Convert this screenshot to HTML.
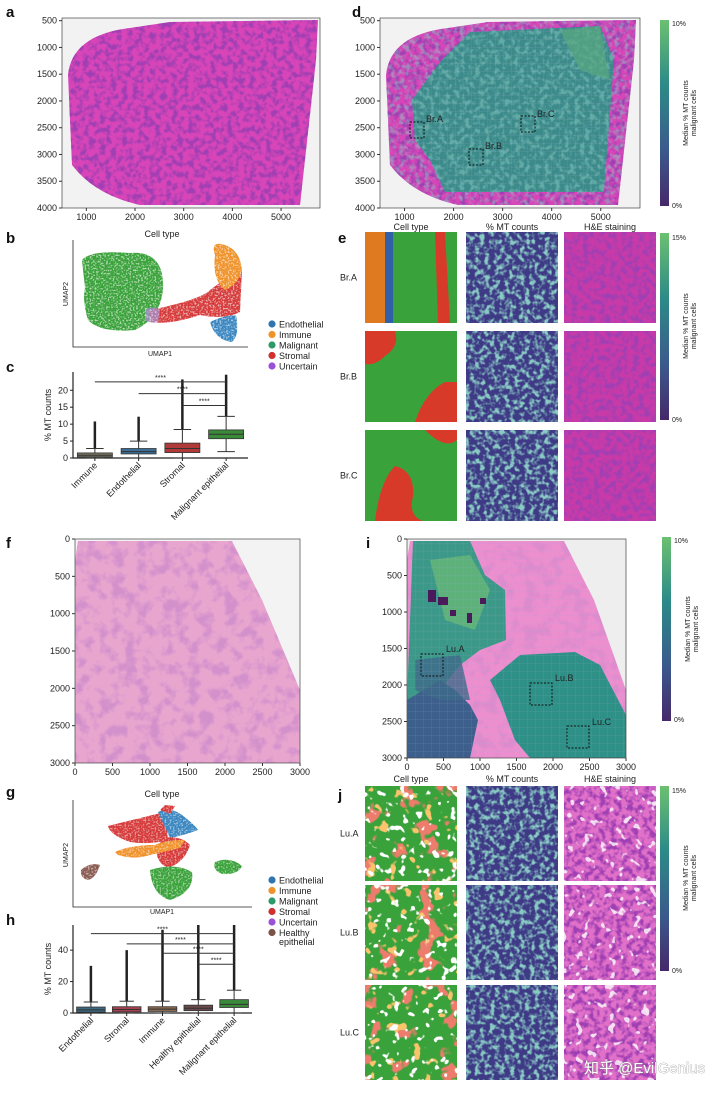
<!DOCTYPE html>
<html><head><meta charset="utf-8"><style>
body{margin:0;background:#fff}
svg{display:block;font-family:"Liberation Sans","Noto Sans CJK SC",sans-serif}
.t{font-size:9px;fill:#222}
.L{font-size:15px;font-weight:bold;fill:#111}
.s{font-size:7px;fill:#222}
</style></head><body>
<svg id="fig" width="720" height="1096" viewBox="0 0 720 1096">
<defs>
<filter id="he" x="0" y="0" width="1" height="1"><feTurbulence type="fractalNoise" baseFrequency="0.18" numOctaves="2" seed="4"/><feColorMatrix type="matrix" values="0 0 0 0 0.35  0 0 0 0 0.05  0 0 0 0 0.45  0 0 0 -4 2.3"/></filter>
<filter id="hel" x="0" y="0" width="1" height="1"><feTurbulence type="fractalNoise" baseFrequency="0.08" numOctaves="3" seed="7"/><feColorMatrix type="matrix" values="0 0 0 0 0.6  0 0 0 0 0.25  0 0 0 0 0.6  0 0 0 -4 2.2"/></filter>
<filter id="mt" x="0" y="0" width="1" height="1"><feTurbulence type="fractalNoise" baseFrequency="0.2" numOctaves="2" seed="9"/><feColorMatrix type="matrix" values="0 0 0 0 0.25  0 0 0 0 0.6  0 0 0 0 0.55  0 0 0 -4 2.2"/></filter>
<filter id="sp" x="0" y="0" width="1" height="1"><feTurbulence type="fractalNoise" baseFrequency="0.6" numOctaves="1" seed="2"/><feColorMatrix type="matrix" values="0 0 0 0 1  0 0 0 0 1  0 0 0 0 1  0 0 0 -5 2.6"/></filter>
<filter id="redb" x="0" y="0" width="1" height="1"><feTurbulence type="fractalNoise" baseFrequency="0.05" numOctaves="3" seed="11"/><feColorMatrix type="matrix" values="0 0 0 0 0.85  0 0 0 0 0.2  0 0 0 0 0.15  0 0 0 -14 5.6"/></filter>
<filter id="orb" x="0" y="0" width="1" height="1"><feTurbulence type="fractalNoise" baseFrequency="0.09" numOctaves="2" seed="21"/><feColorMatrix type="matrix" values="0 0 0 0 0.95  0 0 0 0 0.55  0 0 0 0 0.15  0 0 0 -16 5.6"/></filter>
<filter id="whb" x="0" y="0" width="1" height="1"><feTurbulence type="fractalNoise" baseFrequency="0.12" numOctaves="2" seed="31"/><feColorMatrix type="matrix" values="0 0 0 0 1  0 0 0 0 1  0 0 0 0 1  0 0 0 -16 5.8"/></filter>
<pattern id="grid" width="8" height="8" patternUnits="userSpaceOnUse"><path d="M8 0V8H0" fill="none" stroke="#9ac" stroke-width="0.4" opacity="0.6"/></pattern>
<linearGradient id="vir" x1="0" y1="1" x2="0" y2="0"><stop offset="0" stop-color="#45286a"/><stop offset="0.3" stop-color="#3b5a8c"/><stop offset="0.65" stop-color="#2c8a88"/><stop offset="1" stop-color="#6cc070"/></linearGradient>
<clipPath id="tA"><path d="M68,75 Q72,35 130,28 L170,22 L318,20 L316,60 L300,205 L140,205 Q95,195 72,165 Z"/></clipPath>
<clipPath id="tD"><path d="M386,75 Q390,35 448,28 L488,22 L636,20 L634,60 L618,205 L458,205 Q413,195 390,165 Z"/></clipPath>
<clipPath id="tF"><path d="M78,541 L232,541 L262,600 L300,690 L300,763 L75,763 L75,560 Z"/></clipPath>
<clipPath id="tI"><path d="M410,541 L564,541 L594,600 L626,690 L626,758 L407,758 L407,560 Z"/></clipPath>
</defs>

<text class="L" x="6" y="17">a</text>
<g>
<rect x="62" y="18" width="258" height="190" fill="#f2f2f2"/>
<g clip-path="url(#tA)"><rect x="62" y="18" width="258" height="190" fill="#d845b8"/><rect x="62" y="18" width="258" height="190" filter="url(#he)"/></g>
<rect x="62" y="18" width="258" height="190" fill="none" stroke="#444" stroke-width="0.7"/>
</g>
<g id="axA"></g>

<text class="L" x="352" y="17">d</text>
<g>
<rect x="380" y="18" width="260" height="190" fill="#f2f2f2"/>
<g clip-path="url(#tD)"><rect x="380" y="18" width="260" height="190" fill="#d845b8"/><rect x="380" y="18" width="260" height="190" filter="url(#he)"/>
<path d="M412,100 L440,62 L470,32 L600,26 L614,60 L604,192 L445,192 L430,160 L415,140 Z" fill="#3c8a8a"/>
<rect x="380" y="18" width="260" height="190" filter="url(#mt)" opacity="0.5"/>
<path d="M412,100 L440,62 L470,32 L600,26 L614,60 L604,192 L445,192 L430,160 L415,140 Z" fill="url(#grid)"/>
<path d="M560,30 L600,26 L610,80 L580,70 Z" fill="#5aa880" opacity="0.7"/>
</g>
<rect x="380" y="18" width="260" height="190" fill="none" stroke="#444" stroke-width="0.7"/>
<rect x="410" y="122" width="14" height="16" fill="none" stroke="#111" stroke-dasharray="2,1.5"/><text class="t" x="426" y="122">Br.A</text>
<rect x="469" y="149" width="14" height="16" fill="none" stroke="#111" stroke-dasharray="2,1.5"/><text class="t" x="485" y="149">Br.B</text>
<rect x="521" y="116" width="14" height="16" fill="none" stroke="#111" stroke-dasharray="2,1.5"/><text class="t" x="537" y="117">Br.C</text>
</g>
<g id="axD"></g>
<g><rect x="660" y="20" width="9" height="186" fill="url(#vir)"/><text class="s" x="672" y="26">10%</text><text class="s" x="672" y="208">0%</text>
<text class="s" transform="translate(688,113) rotate(-90)" text-anchor="middle">Median % MT counts</text><text class="s" transform="translate(696,113) rotate(-90)" text-anchor="middle">malignant cells</text></g>

<text class="L" x="6" y="243">b</text>
<text class="t" x="162" y="237" text-anchor="middle">Cell type</text>
<g>
<path d="M82,260 Q90,250 130,253 Q165,250 163,290 Q160,318 135,330 Q100,333 88,320 Q82,300 85,288 Z" fill="#3aa23a"/>
<path d="M150,310 Q200,300 210,290 Q230,275 242,270 L240,312 Q225,320 200,315 Q170,325 150,322 Z" fill="#d63a3a"/>
<path d="M215,255 Q210,240 225,245 Q240,250 242,270 Q238,285 225,290 Q212,280 215,255 Z" fill="#f0922a"/>
<path d="M210,322 Q225,315 236,315 Q240,335 232,342 Q215,340 210,322 Z" fill="#3a86c0"/>
<path d="M145,310 Q152,305 160,310 L158,322 Q150,324 145,320 Z" fill="#a48ac8" opacity="0.8"/>
<rect x="73" y="240" width="175" height="107" filter="url(#sp)" opacity="0.6"/>
<path d="M73,240 V347 H248" fill="none" stroke="#222" stroke-width="0.8"/>
<text class="s" x="160" y="356" text-anchor="middle">UMAP1</text><text class="s" transform="translate(68,294) rotate(-90)" text-anchor="middle">UMAP2</text>
</g>
<g id="legB"></g>

<text class="L" x="6" y="372">c</text>
<g id="chartC"></g>

<text class="L" x="338" y="243">e</text>
<g id="panelE"></g>
<g><rect x="660" y="233" width="9" height="187" fill="url(#vir)"/><text class="s" x="672" y="240">15%</text><text class="s" x="672" y="422">0%</text>
<text class="s" transform="translate(688,326) rotate(-90)" text-anchor="middle">Median % MT counts</text><text class="s" transform="translate(696,326) rotate(-90)" text-anchor="middle">malignant cells</text></g>

<text class="L" x="6" y="548">f</text>
<g>
<rect x="75" y="539" width="225" height="224" fill="#f3f3f3"/>
<g clip-path="url(#tF)"><rect x="75" y="539" width="225" height="224" fill="#e8a6cf"/><rect x="75" y="539" width="225" height="224" filter="url(#hel)" opacity="0.7"/></g>
<rect x="75" y="539" width="225" height="224" fill="none" stroke="#444" stroke-width="0.7"/>
</g>
<g id="axF"></g>

<text class="L" x="366" y="548">i</text>
<g>
<rect x="407" y="539" width="219" height="219" fill="#eeeeee"/>
<g clip-path="url(#tI)"><rect x="407" y="539" width="219" height="219" fill="#ec8fcf"/><rect x="407" y="539" width="219" height="219" filter="url(#hel)" opacity="0.5"/>
<path d="M413,541 L470,541 L485,575 L505,590 L506,640 L480,650 L460,665 L440,690 L407,700 Z" fill="#3c9888"/>
<path d="M430,560 L470,555 L490,590 L475,630 L445,620 Z" fill="#66b878" opacity="0.8"/>
<path d="M407,700 L440,680 L455,690 L470,705 L478,720 L470,758 L407,758 Z" fill="#3d5f8c"/>
<path d="M490,680 L520,655 L575,652 L600,665 L626,715 L626,758 L530,758 L515,740 L500,700 Z" fill="#2f9088"/>
<path d="M415,660 L460,655 L470,700 L440,700 L415,690Z" fill="#3e6a8a" opacity="0.8"/>
<rect x="407" y="539" width="219" height="219" fill="url(#grid)"/>
<rect x="428" y="590" width="8" height="12" fill="#4a1a5a"/><rect x="438" y="597" width="10" height="8" fill="#4a1a5a"/><rect x="450" y="610" width="6" height="6" fill="#4a1a5a"/><rect x="467" y="613" width="5" height="10" fill="#4a1a5a"/><rect x="480" y="598" width="6" height="6" fill="#4a1a5a"/>
</g>
<rect x="407" y="539" width="219" height="219" fill="none" stroke="#444" stroke-width="0.7"/>
<rect x="421" y="654" width="22" height="22" fill="none" stroke="#111" stroke-dasharray="2,1.5"/><text class="t" x="446" y="652">Lu.A</text>
<rect x="530" y="683" width="22" height="22" fill="none" stroke="#111" stroke-dasharray="2,1.5"/><text class="t" x="555" y="681">Lu.B</text>
<rect x="567" y="726" width="22" height="22" fill="none" stroke="#111" stroke-dasharray="2,1.5"/><text class="t" x="592" y="725">Lu.C</text>
</g>
<g id="axI"></g>
<g><rect x="662" y="537" width="9" height="184" fill="url(#vir)"/><text class="s" x="674" y="543">10%</text><text class="s" x="674" y="722">0%</text>
<text class="s" transform="translate(690,629) rotate(-90)" text-anchor="middle">Median % MT counts</text><text class="s" transform="translate(698,629) rotate(-90)" text-anchor="middle">malignant cells</text></g>

<text class="L" x="6" y="797">g</text>
<text class="t" x="162" y="797" text-anchor="middle">Cell type</text>
<g>
<path d="M108,826 Q140,818 165,812 L168,840 Q150,845 130,842 Q110,835 108,826 Z" fill="#d63a3a"/>
<path d="M158,812 Q170,806 182,815 Q195,825 198,830 Q185,835 170,838 Z" fill="#3a86c0"/>
<path d="M163,838 Q180,835 190,845 Q185,862 168,868 Q155,862 157,848 Z" fill="#d63a3a"/>
<path d="M115,852 Q130,845 155,845 Q165,840 185,840 L180,848 L150,855 Q135,860 118,855Z" fill="#f0922a"/>
<path d="M150,870 Q175,862 192,872 Q195,892 170,900 Q152,895 150,870 Z" fill="#3aa23a"/>
<path d="M215,862 Q230,856 242,866 Q238,875 222,874 Q212,870 215,862 Z" fill="#3aa23a"/>
<path d="M81,870 Q90,862 100,865 Q96,878 88,880 Q80,878 81,870 Z" fill="#8a5a50"/>
<path d="M160,810 L165,805 L175,806 L170,814 Z" fill="#d63a3a"/>
<rect x="73" y="800" width="179" height="107" filter="url(#sp)" opacity="0.5"/>
<path d="M73,800 V907 H252" fill="none" stroke="#222" stroke-width="0.8"/>
<text class="s" x="162" y="914" text-anchor="middle">UMAP1</text><text class="s" transform="translate(68,855) rotate(-90)" text-anchor="middle">UMAP2</text>
</g>
<g id="legG"></g>

<text class="L" x="6" y="925">h</text>
<g id="chartH"></g>

<text class="L" x="338" y="800">j</text>
<g id="panelJ"></g>
<g><rect x="660" y="786" width="9" height="185" fill="url(#vir)"/><text class="s" x="672" y="793">15%</text><text class="s" x="672" y="973">0%</text>
<text class="s" transform="translate(688,878) rotate(-90)" text-anchor="middle">Median % MT counts</text><text class="s" transform="translate(696,878) rotate(-90)" text-anchor="middle">malignant cells</text></g>

<text x="584" y="1073" style="font-size:15px;fill:#fff;stroke:#888;stroke-width:0.6;paint-order:stroke">知乎 @EvilGenius</text>
</svg>
<script>
const NS='http://www.w3.org/2000/svg';
function mk(p,tag,a,txt){const e=document.createElementNS(NS,tag);for(const k in a)e.setAttribute(k,a[k]);if(txt!==undefined)e.textContent=txt;p.appendChild(e);return e;}

const ticksA=[500,1000,1500,2000,2500,3000,3500,4000];
const ticksAx=[1000,2000,3000,4000,5000];
const ticksF=[0,500,1000,1500,2000,2500,3000];
function imgAxes(id,x0,x1,y0,y1,xd,yd,xt,yt){
  const g=document.getElementById(id);
  const sx=v=>x0+(v-xd[0])/(xd[1]-xd[0])*(x1-x0), sy=v=>y0+(v-yd[0])/(yd[1]-yd[0])*(y1-y0);
  yt.forEach(v=>{mk(g,'line',{x1:x0-3,x2:x0,y1:sy(v),y2:sy(v),stroke:'#333'});const t=mk(g,'text',{class:'t',x:x0-5,y:sy(v)+3,'text-anchor':'end'},v);
  
  });
  xt.forEach(v=>{mk(g,'line',{x1:sx(v),x2:sx(v),y1:y1,y2:y1+3,stroke:'#333'});const t=mk(g,'text',{class:'t',x:sx(v),y:y1+12,'text-anchor':'middle'},v);
  
  });
}
imgAxes('axA',62,320,18,208,[500,5800],[450,4000],ticksAx,ticksA);
imgAxes('axD',380,640,18,208,[500,5800],[450,4000],ticksAx,ticksA);
imgAxes('axF',75,300,539,763,[0,3000],[0,3000],ticksF,ticksF);
imgAxes('axI',407,626,539,758,[0,3000],[0,3000],ticksF,ticksF);

function legend(id,x,y,names,cols){const g=document.getElementById(id);
  names.forEach((n,i)=>{mk(g,'circle',{cx:x,cy:y+i*10.5,r:3.6,fill:cols[i]});const t=mk(g,'text',{class:'t',x:x+7,y:y+i*10.5+3.5},n);
  
  });}
legend('legB',272,324,['Endothelial','Immune','Malignant','Stromal','Uncertain'],['#2f75b0','#f0922a','#2e9a6a','#d03030','#9b50d8']);
legend('legG',272,880,['Endothelial','Immune','Malignant','Stromal','Uncertain','Healthy'],['#2f75b0','#f0922a','#2e9a6a','#d03030','#9b50d8','#7a5248']);
mk(document.getElementById('legG'),'text',{class:'t',x:279,y:945},'epithelial');

const catC=['Immune','Endothelial','Stromal','Malignant epithelial'];
const q1C=[0.3,1.2,1.6,5.7], medC=[0.8,1.9,2.8,7.0], q3C=[1.5,2.8,4.4,8.3];
const wlC=[0,0,0,1.9], whC=[2.8,5.0,8.4,12.3], maxC=[10.8,12.2,23.2,24.6];
const colC=['#7a7462','#3a6e96','#b03a3a','#3a8a3a'];
const sigC=[[0,3,22.5],[1,3,19],[2,3,15.5]];
const ticksC=[0,5,10,15,20];
const catH=['Endothelial','Stromal','Immune','Healthy epithelial','Malignant epithelial'];
const q1H=[0.5,0.7,1.0,1.5,3.5], medH=[2.0,2.2,2.5,3.0,5.5], q3H=[3.8,4.0,4.0,5.0,8.5];
const wlH=[0,0,0,0,0], whH=[7,7.5,7.5,8.5,14.5], maxH=[30,40,53,56,56];
const colH=['#3b6a82','#a84050','#8a6a50','#6a4a4a','#3a8a3a'];
const sigH=[[0,4,50.5],[1,4,44],[2,4,38],[3,4,31]];
const ticksH=[0,20,40];

function box(id,cats,q1,med,q3,wl,wh,mx,cols,sig,ticks,x0,x1,y0,y1,ymax,ylab){
  const g=document.getElementById(id);
  const n=cats.length, bw=(x1-x0)/n, sy=v=>y1-(v/ymax)*(y1-y0), cx=i=>x0+bw*(i+0.5);
  mk(g,'path',{d:`M${x0},${y0} V${y1} H${x1}`,fill:'none',stroke:'#222','stroke-width':1.2});
  ticks.forEach(v=>{mk(g,'line',{x1:x0-3,x2:x0,y1:sy(v),y2:sy(v),stroke:'#222'});const t=mk(g,'text',{class:'t',x:x0-5,y:sy(v)+3,'text-anchor':'end'},v);
    
    });
  const yl=mk(g,'text',{class:'t',transform:`translate(${x0-22},${(y0+y1)/2}) rotate(-90)`,'text-anchor':'middle'},ylab);
  
  
  cats.forEach((c,i)=>{const x=cx(i),w=bw*0.8;
    mk(g,'line',{x1:x,x2:x,y1:sy(wh[i]),y2:sy(mx[i]),stroke:'#222','stroke-width':2.5});
    mk(g,'line',{x1:x,x2:x,y1:sy(q3[i]),y2:sy(wh[i]),stroke:'#333'});
    mk(g,'line',{x1:x,x2:x,y1:sy(wl[i]),y2:sy(q1[i]),stroke:'#333'});
    mk(g,'line',{x1:x-w/4,x2:x+w/4,y1:sy(wh[i]),y2:sy(wh[i]),stroke:'#333'});
    mk(g,'line',{x1:x-w/4,x2:x+w/4,y1:sy(wl[i]),y2:sy(wl[i]),stroke:'#333'});
    const b=mk(g,'rect',{x:x-w/2,y:sy(q3[i]),width:w,height:Math.max(1,sy(q1[i])-sy(q3[i])),fill:cols[i],stroke:'#333','stroke-width':0.8});
    
    
    mk(g,'line',{x1:x-w/2,x2:x+w/2,y1:sy(med[i]),y2:sy(med[i]),stroke:'#333'});
    mk(g,'line',{x1:x,x2:x,y1:y1,y2:y1+3,stroke:'#222'});
    const t=mk(g,'text',{class:'t',transform:`translate(${x+3},${y1+8}) rotate(-45)`,'text-anchor':'end'},c);
    
    });
  sig.forEach(([a,b,v])=>{mk(g,'line',{x1:cx(a),x2:cx(b),y1:sy(v),y2:sy(v),stroke:'#333'});
    const t=mk(g,'text',{class:'s',x:(cx(a)+cx(b))/2,y:sy(v)-2,'text-anchor':'middle'},'****');
    
    });
}
box('chartC',catC,q1C,medC,q3C,wlC,whC,maxC,colC,sigC,ticksC,73,248,372,458,25.4,'% MT counts');
box('chartH',catH,q1H,medH,q3H,wlH,whH,maxH,colH,sigH,ticksH,73,252,925,1013,56,'% MT counts');

function zooms(id,labels,ys,h,heads,hy,tissue){
  const g=document.getElementById(id), xs=[365,466,564], w=92;
  heads.forEach((t,i)=>{const e=mk(g,'text',{class:'t',x:xs[i]+w/2,y:hy,'text-anchor':'middle'},t);
    
    });
  labels.forEach((l,r)=>{const y=ys[r];
    const e=mk(g,'text',{class:'t',x:340,y:y+h/2+3},l);
    
    
    mk(g,'rect',{x:xs[0],y:y,width:w,height:h,fill:'#3aa23a'});
    const red='#d83a2a';
    if(r===0&&!tissue){mk(g,'path',{d:`M${xs[0]},${y} h20 v${h} h-20Z`,fill:'#e07a20'});mk(g,'path',{d:`M${xs[0]+20},${y} h8 v${h} h-8Z`,fill:'#3060a8'});mk(g,'path',{d:`M${xs[0]+70},${y} h10 l5,${h} h-12Z`,fill:red});}
    if(r===1&&!tissue){mk(g,'path',{d:`M${xs[0]},${y} h30 q5,15 -10,25 q-10,10 -20,8Z`,fill:red});mk(g,'path',{d:`M${xs[0]+50},${y+h} q10,-30 30,-40 l12,0 v40Z`,fill:red});}
    if(r===2&&!tissue){mk(g,'path',{d:`M${xs[0]+10},${y+h} q5,-40 20,-55 q20,5 18,30 q-5,20 10,25Z`,fill:red});mk(g,'path',{d:`M${xs[0]+60},${y} q20,20 32,10 v-10Z`,fill:red});}
    if(tissue){
      mk(g,'rect',{x:xs[0],y:y,width:w,height:h,filter:'url(#redb)'});
      mk(g,'rect',{x:xs[0],y:y,width:w,height:h,filter:'url(#orb)'});
      mk(g,'rect',{x:xs[0],y:y,width:w,height:h,filter:'url(#whb)'});}
    mk(g,'rect',{x:xs[1],y:y,width:w,height:h,fill:'#3e3a86'});
    mk(g,'rect',{x:xs[1],y:y,width:w,height:h,filter:'url(#mt)'});
    mk(g,'rect',{x:xs[2],y:y,width:w,height:h,fill:tissue?'#e070c8':'#c83aa8'});
    mk(g,'rect',{x:xs[2],y:y,width:w,height:h,filter:'url(#he)'});
    if(tissue) mk(g,'rect',{x:xs[2],y:y,width:w,height:h,filter:'url(#whb)',opacity:0.8});
  });
}
zooms('panelE',['Br.A','Br.B','Br.C'],[232,331,430],91,['Cell type','% MT counts','H&E staining'],230,false);
zooms('panelJ',['Lu.A','Lu.B','Lu.C'],[786,885,985],95,['Cell type','% MT counts','H&E staining'],782,true);
</script>
</body></html>
